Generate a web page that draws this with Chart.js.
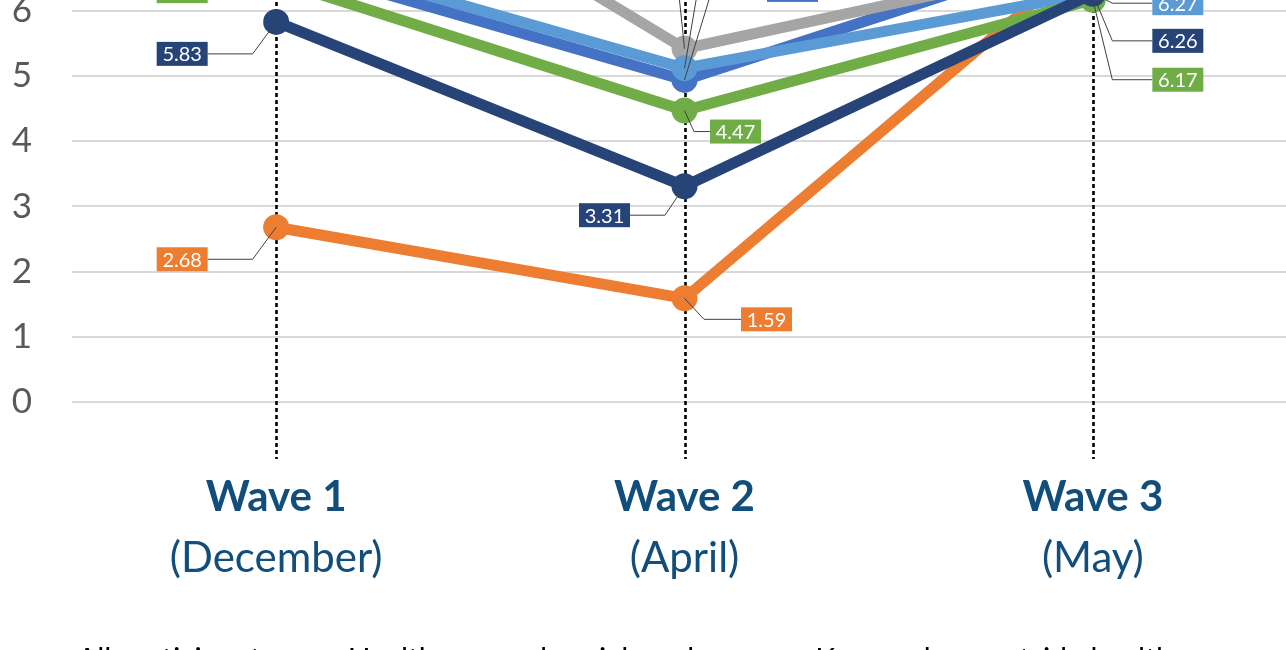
<!DOCTYPE html>
<html>
<head>
<meta charset="utf-8">
<script src="https://cdn.jsdelivr.net/npm/chart.js@4"></script>
<style>
  html, body { margin: 0; padding: 0; background: #fff; overflow: hidden; }
  #wrap { position: absolute; left: 0; top: -311px; width: 1310px; height: 1036px; }
</style>
</head>
<body>
<div id="wrap"><canvas id="waveChart" width="1310" height="1036"></canvas></div>
<script>
// categories
const waveLabels = ['Wave 1', 'Wave 2', 'Wave 3'];
const monthLabels = ['(December)', '(April)', '(May)'];

// series (legend order)
const seriesNames = ['All participants', 'Healthcare and social workers', 'Key workers outside health', 'Working from home', 'Students', 'Retired'];
const blueValues = [6.74, 4.94, 6.98];
const orangeValues = [2.68, 1.59, 6.90];
const grayValues = [9.20, 5.42, 6.77];
const lightBlueValues = [6.90, 5.12, 6.27];
const greenValues = [6.47, 4.47, 6.17];
const navyValues = [5.83, 3.31, 6.26];

const yTicks = [0, 1, 2, 3, 4, 5, 6, 7, 8, 9, 10];

const colors = ['#4472C4', '#ED7D31', '#A5A5A5', '#5B9BD5', '#70AD47', '#264478'];
const allValues = [blueValues, orangeValues, grayValues, lightBlueValues, greenValues, navyValues];

// label box placement relative to each point: [dx, dy, elbow]
const calloutOffsets = [
    [[-94, -40, 45], [108, -90, 55], [85, -90, 40]],
    [[-94, 32, 45], [82, 21, 37], [85, -60, 40]],
    [[-94, 32, 45], [-81, -150, 40], [85, -30, 40]],
    [[-94, -80, 45], [91, -150, 40], [85, 10, 40]],
    [[-94, 11, 45], [51, 21, 16], [85, 80, 40]],
    [[-94, 32, 45], [-80, 29, 35], [85, 47, 40]]
];

Chart.defaults.font.family = 'Lato, "Open Sans", sans-serif';

const dropLines = {
    id: 'dropLines',
    beforeDatasetsDraw(chart) {
        const { ctx, chartArea } = chart;
        const x = chart.scales.x;
        ctx.save();
        ctx.strokeStyle = '#000';
        ctx.lineWidth = 2.6;
        ctx.setLineDash([4, 3]);
        waveLabels.forEach((_, i) => {
            const px = Math.round(x.getPixelForValue(i)) + 0.5;
            ctx.beginPath();
            ctx.moveTo(px, chartArea.top);
            ctx.lineTo(px, chartArea.bottom + 57);
            ctx.stroke();
        });
        ctx.restore();
    }
};

const callouts = {
    id: 'callouts',
    afterDatasetsDraw(chart, args, opts) {
        const ctx = chart.ctx;
        ctx.save();
        ctx.font = '20px Lato, sans-serif';
        chart.data.datasets.forEach((ds, di) => {
            const meta = chart.getDatasetMeta(di);
            meta.data.forEach((pt, i) => {
                const [dx, dy, elbow] = opts.offsets[di][i];
                const text = ds.data[i].toFixed(2);
                const w = Math.round(ctx.measureText(text).width + 11);
                const h = 24;
                const cx = pt.x + dx, cy = pt.y + dy;
                const edge = dx > 0 ? cx - w / 2 : cx + w / 2;
                const ex = dx > 0 ? edge - elbow : edge + elbow;
                ctx.strokeStyle = '#404040';
                ctx.lineWidth = 1;
                ctx.beginPath();
                ctx.moveTo(pt.x, pt.y);
                ctx.lineTo(ex, cy);
                ctx.lineTo(edge, cy);
                ctx.stroke();
                ctx.fillStyle = ds.borderColor;
                ctx.fillRect(cx - w / 2, cy - h / 2, w, h);
                ctx.fillStyle = '#fff';
                ctx.textAlign = 'center';
                ctx.textBaseline = 'middle';
                ctx.fillText(text, cx, cy + 1);
            });
        });
        ctx.restore();
    }
};

new Chart(document.getElementById('waveChart'), {
    type: 'line',
    data: {
        labels: waveLabels,
        datasets: seriesNames.map((name, i) => ({
            label: name,
            data: allValues[i],
            borderColor: colors[i],
            backgroundColor: colors[i],
            borderWidth: 11,
            borderJoinStyle: 'round',
            borderCapStyle: 'round',
            pointRadius: 13,
            pointBorderWidth: 0,
            pointBackgroundColor: colors[i],
            order: seriesNames.length - i,
            xAxisID: 'x'
        }))
    },
    options: {
        responsive: false,
        animation: false,
        events: [],
        layout: { padding: { top: 30, right: 13, left: 3, bottom: 0 } },
        scales: {
            x: {
                type: 'category',
                offset: true,
                grid: { display: false },
                border: { display: false },
                ticks: {
                    padding: 62,
                    color: '#114E7B',
                    font: { size: 42, weight: 'bold' },
                    maxRotation: 0
                },
                afterFit: s => { s.height = 120; }
            },
            x2: {
                type: 'category',
                labels: monthLabels,
                position: 'bottom',
                offset: true,
                grid: { display: false },
                border: { display: false },
                ticks: {
                    padding: 3,
                    color: '#114E7B',
                    font: { size: 42 },
                    maxRotation: 0
                },
                afterFit: s => { s.height = 113; }
            },
            y: {
                min: 0,
                max: 10,
                afterBuildTicks: s => { s.ticks = yTicks.map(v => ({ value: v })); },
                grid: { color: '#D9D9D9', lineWidth: 2, drawTicks: false },
                border: { display: false },
                ticks: {
                    padding: 40,
                    color: '#595959',
                    font: { size: 35 }
                },
                afterFit: s => { s.width = 69; }
            }
        },
        plugins: {
            legend: {
                position: 'bottom',
                align: 'start',
                labels: {
                    boxWidth: 49,
                    boxHeight: 8,
                    padding: 10,
                    color: '#000',
                    font: { size: 30 },
                    sort: (a, b) => a.datasetIndex - b.datasetIndex
                }
            },
            tooltip: { enabled: false },
            callouts: { offsets: calloutOffsets }
        }
    },
    plugins: [dropLines, callouts]
});
</script>
</body>
</html>
